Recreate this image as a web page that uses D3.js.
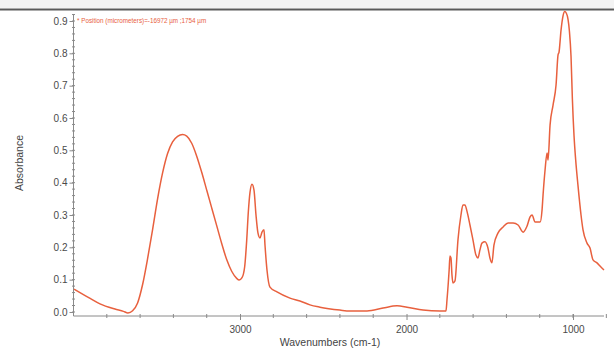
<!DOCTYPE html>
<html>
<head>
<meta charset="utf-8">
<script src="https://cdn.jsdelivr.net/npm/d3@7"></script>
<style>
  body { margin: 0; background: #fff; }
  svg { display: block; font-family: "Liberation Sans", Arial, sans-serif; }
</style>
</head>
<body>
<svg id="chart" width="614" height="351"></svg>
<script>
// spectrum (wavenumber cm-1, absorbance)
var wavenumbers = [3997, 3900, 3841, 3751, 3700, 3673, 3645, 3615, 3585, 3555, 3525, 3495, 3465, 3435, 3405,
  3375, 3345, 3320, 3290, 3260, 3230, 3200, 3170, 3140, 3110, 3080, 3050, 3020, 3005, 2988, 2972,
  2960, 2950, 2940, 2928, 2916, 2904, 2892, 2880, 2868, 2856, 2850, 2838, 2820, 2778, 2700, 2640,
  2580, 2520, 2400, 2340, 2237, 2141, 2057, 1997, 1901, 1799, 1763, 1757, 1744, 1739, 1733, 1727,
  1721, 1709, 1691, 1673, 1661, 1649, 1637, 1619, 1601, 1583, 1571, 1559, 1547, 1529, 1511, 1499,
  1487, 1475, 1451, 1420, 1390, 1360, 1330, 1300, 1276, 1258, 1246, 1228, 1198, 1186, 1180, 1168,
  1156, 1150, 1138, 1120, 1102, 1090, 1084, 1072, 1060, 1050, 1040, 1030, 1022, 1012, 1004, 994,
  984, 970, 952, 940, 916, 898, 880, 856, 838, 814];
var absorbance = [0.071, 0.042, 0.025, 0.009, 0.002, -0.003, 0.004, 0.028, 0.085, 0.165, 0.255, 0.350, 0.430, 0.490, 0.526,
  0.543, 0.549, 0.544, 0.522, 0.482, 0.432, 0.377, 0.322, 0.267, 0.212, 0.162, 0.126, 0.104, 0.099, 0.106, 0.140,
  0.220, 0.310, 0.370, 0.395, 0.377, 0.300, 0.244, 0.229, 0.247, 0.254, 0.207, 0.130, 0.077, 0.062, 0.043, 0.034,
  0.022, 0.015, 0.006, 0.003, 0.003, 0.012, 0.019, 0.015, 0.006, 0.003, 0.003, 0.037, 0.130, 0.173, 0.167, 0.114,
  0.090, 0.096, 0.223, 0.300, 0.331, 0.331, 0.312, 0.269, 0.223, 0.176, 0.167, 0.192, 0.213, 0.217, 0.198, 0.167,
  0.152, 0.207, 0.244, 0.263, 0.275, 0.275, 0.269, 0.247, 0.266, 0.294, 0.300, 0.278, 0.278, 0.316, 0.362, 0.439,
  0.492, 0.470, 0.578, 0.640, 0.702, 0.795, 0.804, 0.872, 0.916, 0.929, 0.924, 0.905, 0.870, 0.790, 0.660, 0.545,
  0.470, 0.390, 0.300, 0.254, 0.213, 0.198, 0.161, 0.152, 0.142, 0.130];

var yTicks = [0.0, 0.1, 0.2, 0.3, 0.4, 0.5, 0.6, 0.7, 0.8, 0.9];
var xTicks = [3000, 2000, 1000];
var xMinor = [3800, 3600, 3400, 3200, 2800, 2600, 2400, 2200, 1800, 1600, 1400, 1200, 1000, 800];

var svg = d3.select("#chart");
var plotLeft = 73.5, plotRight = 604, plotTop = 10, plotBottom = 316;

var x = d3.scaleLinear().domain([4000, 814]).range([plotLeft, plotRight]);
var y = d3.scaleLinear().domain([-0.0124, 0.934]).range([plotBottom, plotTop]);

// header strip
svg.append("rect").attr("x", 0).attr("y", 0).attr("width", 614).attr("height", 8).attr("fill", "#f3f3f3");
svg.append("line").attr("x1", 0).attr("x2", 614).attr("y1", 9.5).attr("y2", 9.5)
  .attr("stroke", "#5a5a5a").attr("stroke-width", 2);

// y axis
var yAxis = d3.axisLeft(y).tickValues(yTicks).tickFormat(d3.format(".1f")).tickSize(4).tickPadding(2);
var gy = svg.append("g").attr("transform", "translate(" + plotLeft + ",0)").call(yAxis);
gy.select(".domain").attr("d", "M0," + plotBottom + "V14");
var yMinor = d3.range(0, 0.93, 0.02);
svg.append("g").selectAll("line").data(yMinor).enter().append("line")
  .attr("x1", plotLeft - 1.5).attr("x2", plotLeft + 1.5)
  .attr("y1", function (d) { return y(d); }).attr("y2", function (d) { return y(d); });

// x axis
var xAxis = d3.axisBottom(x).tickValues(xTicks).tickFormat(d3.format("d")).tickSize(4).tickPadding(6);
var gx = svg.append("g").attr("transform", "translate(0," + plotBottom + ")").call(xAxis);
gx.select(".domain").attr("d", "M" + plotLeft + ",0H" + plotRight);
gx.selectAll(".tick line").attr("y1", -2);
svg.append("g").selectAll("line").data(xMinor).enter().append("line")
  .attr("x1", function (d) { return x(d); }).attr("x2", function (d) { return x(d); })
  .attr("y1", plotBottom - 2).attr("y2", plotBottom + 2);

svg.selectAll(".domain").attr("stroke", "#8a8a8a");
svg.selectAll("line").filter(function () { return !this.getAttribute("stroke"); }).attr("stroke", "#8a8a8a");
svg.selectAll(".tick line").attr("stroke", "#8a8a8a");
svg.selectAll(".tick text").attr("fill", "#4a4a4a").style("font-size", "10px");

// spectrum
var pts = wavenumbers.map(function (w, i) { return [w, absorbance[i]]; });
var line = d3.line()
  .x(function (d) { return x(d[0]); })
  .y(function (d) { return y(d[1]); })
  .curve(d3.curveMonotoneX);
svg.append("path").datum(pts).attr("d", line)
  .attr("fill", "none").attr("stroke", "#e8603e").attr("stroke-width", 1.5);

// labels
svg.append("text").attr("x", 330).attr("y", 346).attr("text-anchor", "middle")
  .attr("fill", "#444").style("font-size", "10.5px").text("Wavenumbers (cm-1)");
svg.append("text").attr("transform", "translate(23,163) rotate(-90)").attr("text-anchor", "middle")
  .attr("fill", "#444").style("font-size", "10.5px").text("Absorbance");
svg.append("text").attr("x", 77).attr("y", 22.5)
  .attr("fill", "#e8603e").style("font-size", "6.3px")
  .text("* Position (micrometers)=-16972 µm ;1754 µm");
</script>
</body>
</html>
